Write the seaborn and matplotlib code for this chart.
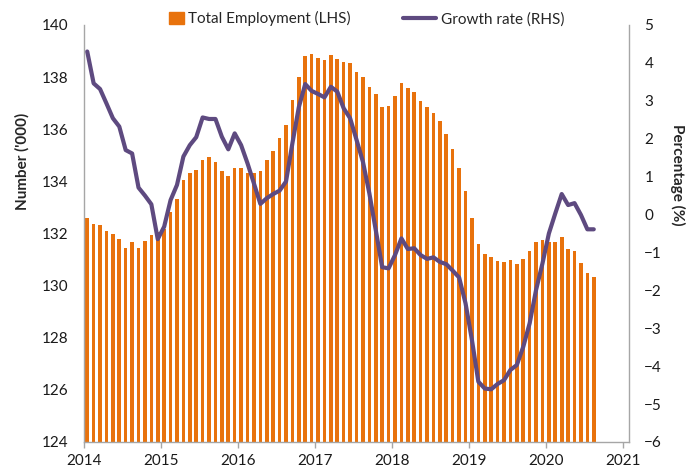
import matplotlib
matplotlib.use("Agg")
import matplotlib.pyplot as plt
import seaborn as sns
import pandas as pd
from matplotlib.patches import Rectangle
from matplotlib.lines import Line2D
from matplotlib.legend_handler import HandlerPatch

# monthly data, Jan 2014 - Aug 2020
employment = [
    132.58, 132.36, 132.33, 132.08, 131.97, 131.80, 131.46, 131.67, 131.46, 131.71, 131.93, 132.05,
    132.16, 132.82, 133.34, 134.04, 134.32, 134.45, 134.82, 134.93, 134.74, 134.39, 134.22, 134.53,
    134.53, 134.32, 134.32, 134.39, 134.83, 135.17, 135.65, 136.15, 137.11, 137.99, 138.81, 138.87,
    138.75, 138.65, 138.85, 138.70, 138.57, 138.53, 138.20, 137.99, 137.61, 137.35, 136.84, 136.88,
    137.29, 137.77, 137.58, 137.43, 137.07, 136.84, 136.61, 136.32, 135.82, 135.25, 134.51, 133.62,
    132.59, 131.60, 131.21, 131.10, 130.96, 130.91, 130.98, 130.84, 131.02, 131.33, 131.66, 131.76,
    131.66, 131.66, 131.88, 131.40, 131.33, 130.87, 130.47, 130.34,
]
growth = [
    4.30, 3.46, 3.31, 2.93, 2.54, 2.32, 1.70, 1.61, 0.71, 0.50, 0.27, -0.65,
    -0.32, 0.38, 0.78, 1.53, 1.83, 2.04, 2.56, 2.52, 2.52, 2.05, 1.72, 2.14,
    1.83, 1.35, 0.82, 0.28, 0.43, 0.54, 0.63, 0.87, 1.88, 2.83, 3.44, 3.26,
    3.18, 3.09, 3.37, 3.24, 2.80, 2.54, 1.97, 1.39, 0.56, -0.41, -1.39, -1.42,
    -1.07, -0.63, -0.91, -0.89, -1.07, -1.17, -1.13, -1.25, -1.31, -1.48, -1.66, -2.34,
    -3.31, -4.41, -4.59, -4.61, -4.47, -4.37, -4.10, -3.97, -3.49, -2.87, -1.99, -1.29,
    -0.50, 0.03, 0.54, 0.25, 0.30, -0.01, -0.39, -0.39,
]
years = [2014, 2015, 2016, 2017, 2018, 2019, 2020, 2021]

ORANGE = "#E8720C"
PURPLE = "#5E4A80"
GREY = "#A6A6A6"

df = pd.DataFrame({"month": range(len(employment)),
                   "employment": employment,
                   "growth": growth})

sns.set_theme(style="white")
plt.rcParams["font.family"] = ["Lato", "DejaVu Sans"]
plt.rcParams["font.size"] = 11

fig = plt.figure(figsize=(6.99, 4.71), dpi=100)
ax1 = fig.add_axes([0.1202, 0.0616, 0.7797, 0.8854])

sns.barplot(data=df, x="month", y="employment", color=ORANGE, saturation=1,
            width=0.56, linewidth=0, ax=ax1)
ax1.set_ylim(124, 140)
ax1.set_yticks(range(124, 141, 2))
ax1.set_xticks([12 * i - 0.5 for i in range(len(years))])
ax1.set_xticklabels([str(y) for y in years])
ax1.set_xlim(-0.5, 12 * (len(years) - 1) + 0.5)

ax2 = ax1.twinx()
sns.lineplot(data=df, x="month", y="growth", color=PURPLE, linewidth=3.0,
             ax=ax2, solid_capstyle="round", solid_joinstyle="round")
ax2.set_ylim(-6, 5)
ax2.set_yticks(range(-6, 6))
ax2.set_xlim(-0.5, 12 * (len(years) - 1) + 0.5)

for ax in (ax1, ax2):
    for side in ax.spines:
        ax.spines[side].set_visible(False)
ax1.spines["left"].set_visible(True)
ax1.spines["bottom"].set_visible(True)
ax2.spines["right"].set_visible(True)
for sp in (ax1.spines["left"], ax1.spines["bottom"], ax2.spines["right"]):
    sp.set_color(GREY)
    sp.set_linewidth(1.0)

ax1.tick_params(axis="y", length=0, pad=11, labelsize=11, colors="#1a1a1a")
ax2.tick_params(axis="y", length=0, pad=11, labelsize=11, colors="#1a1a1a")
ax1.tick_params(axis="x", length=4, width=1, color=GREY, direction="out",
                pad=5, labelsize=11, labelcolor="#1a1a1a")
ax1.tick_params(axis="x", bottom=True)

ax1.set_xlabel("")
ax2.set_xlabel("")
ax1.set_ylabel("Number ('000)", fontweight="bold", fontsize=11)
ax1.yaxis.set_label_coords(-0.099, 0.672)
ax2.set_ylabel("Percentage (%)", fontweight="bold", fontsize=11,
               rotation=270, va="bottom")
ax2.yaxis.set_label_coords(1.075, 0.640)


def small_patch(legend, orig_handle, xdescent, ydescent, width, height, fontsize):
    w = width * 0.42
    h = height * 1.15
    return Rectangle((width - w - xdescent, -ydescent - 0.07 * height), w, h)


handles = [Rectangle((0, 0), 1, 1, color=ORANGE),
           Line2D([0], [0], color=PURPLE, linewidth=3.0)]
labels = ["Total Employment (LHS)", "Growth rate (RHS)"]
fig.legend(handles, labels, loc="center", bbox_to_anchor=(0.511, 0.960),
           ncol=2, frameon=False, fontsize=11, handlelength=2.2,
           handletextpad=0.3, columnspacing=3.4,
           handler_map={Rectangle: HandlerPatch(patch_func=small_patch)})

fig.savefig("out.png", dpi=100)
